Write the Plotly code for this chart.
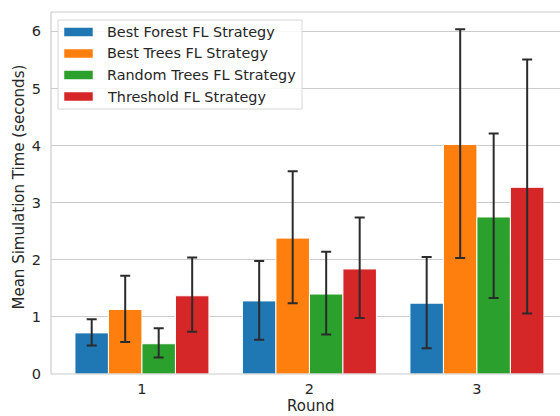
import plotly.graph_objects as go

# Mean simulation time per round, with lower/upper bounds of the error bars
rounds = ["1", "2", "3"]
strategies = [
    "Best Forest FL Strategy",
    "Best Trees FL Strategy",
    "Random Trees FL Strategy",
    "Threshold FL Strategy",
]
colors = ["#1f77b4", "#ff7f0e", "#2ca02c", "#d62728"]

best_forest_mean = [0.72, 1.28, 1.24]
best_forest_low = [0.50, 0.60, 0.45]
best_forest_high = [0.96, 1.98, 2.05]

best_trees_mean = [1.13, 2.38, 4.02]
best_trees_low = [0.56, 1.24, 2.03]
best_trees_high = [1.72, 3.55, 6.04]

random_trees_mean = [0.53, 1.40, 2.75]
random_trees_low = [0.29, 0.69, 1.33]
random_trees_high = [0.80, 2.14, 4.21]

threshold_mean = [1.37, 1.84, 3.27]
threshold_low = [0.74, 0.98, 1.06]
threshold_high = [2.04, 2.74, 5.51]

means = [best_forest_mean, best_trees_mean, random_trees_mean, threshold_mean]
lows = [best_forest_low, best_trees_low, random_trees_low, threshold_low]
highs = [best_forest_high, best_trees_high, random_trees_high, threshold_high]

W, H = 560, 416
L, R, T, B = 51, 0, 12, 42
font = "DejaVu Sans"
text_col = "#262626"
grid_col = "#cccccc"
tick_size = 14.5
label_size = 15
legend_size = 14.4

fig = go.Figure()
xpos = list(range(len(rounds)))
for name, col, m, lo, hi in zip(strategies, colors, means, lows, highs):
    fig.add_trace(go.Bar(
        x=xpos, y=m, name=name,
        marker=dict(color=col, line=dict(color="white", width=1)),
        error_y=dict(
            type="data", symmetric=False,
            array=[h - v for h, v in zip(hi, m)],
            arrayminus=[v - l for v, l in zip(m, lo)],
            color="#2b2b2b", thickness=2, width=5,
        ),
        showlegend=False,
    ))

fig.update_layout(
    width=W, height=H,
    margin=dict(l=L, r=R, t=T, b=B, pad=0),
    paper_bgcolor="white", plot_bgcolor="white",
    barmode="group", bargap=0.2, bargroupgap=0,
    font=dict(family=font, size=tick_size, color=text_col),
    xaxis=dict(
        range=[-0.543, 2.496], tickvals=xpos, ticktext=rounds,
        showgrid=False, zeroline=False, showline=False,
        ticks="", tickfont=dict(size=tick_size, color=text_col),
        ticklabelstandoff=4,
    ),
    yaxis=dict(
        range=[0, 6.34], tickvals=[0, 1, 2, 3, 4, 5, 6],
        showgrid=True, gridcolor=grid_col, gridwidth=1,
        zeroline=False, showline=False, ticks="",
        tickfont=dict(size=tick_size, color=text_col), ticklabelstandoff=9,
    ),
)

# axis frame (left, top, bottom)
for x0, x1, y0, y1 in [(0, 0, 0, 1), (0, 1, 1, 1), (0, 1, 0, 0)]:
    fig.add_shape(type="line", xref="paper", yref="paper", x0=x0, x1=x1, y0=y0, y1=y1,
                  line=dict(color=grid_col, width=1.2))

pw, ph = W - L - R, H - T - B


def px_x(p):
    return (p - L) / pw


def px_y(p):
    return (H - B - p) / ph


# axis titles
fig.add_annotation(text="Round", xref="paper", yref="paper",
                   x=px_x(310), y=px_y(416), showarrow=False,
                   font=dict(size=label_size, color=text_col),
                   yanchor="bottom", borderpad=0)
fig.add_annotation(text="Mean Simulation Time (seconds)", xref="paper", yref="paper",
                   x=px_x(18.5), y=px_y(187), showarrow=False, textangle=-90,
                   font=dict(size=label_size, color=text_col), xanchor="center", yanchor="middle")

# legend box
fig.add_shape(type="rect", xref="paper", yref="paper",
              x0=px_x(58), x1=px_x(302), y0=px_y(109), y1=px_y(20),
              line=dict(color="#d6d6d6", width=1), fillcolor="rgba(255,255,255,0.85)")
row_y = [32, 53.5, 75, 96.5]
for name, col, ry in zip(strategies, colors, row_y):
    fig.add_shape(type="rect", xref="paper", yref="paper",
                  x0=px_x(64), x1=px_x(93), y0=px_y(ry + 4.5), y1=px_y(ry - 4.5),
                  line=dict(color="white", width=0.5), fillcolor=col)
    fig.add_annotation(text=name, xref="paper", yref="paper",
                       x=px_x(105), y=px_y(ry), xanchor="left", yanchor="middle",
                       showarrow=False, font=dict(size=legend_size, color=text_col))

fig.write_html("out.html")
